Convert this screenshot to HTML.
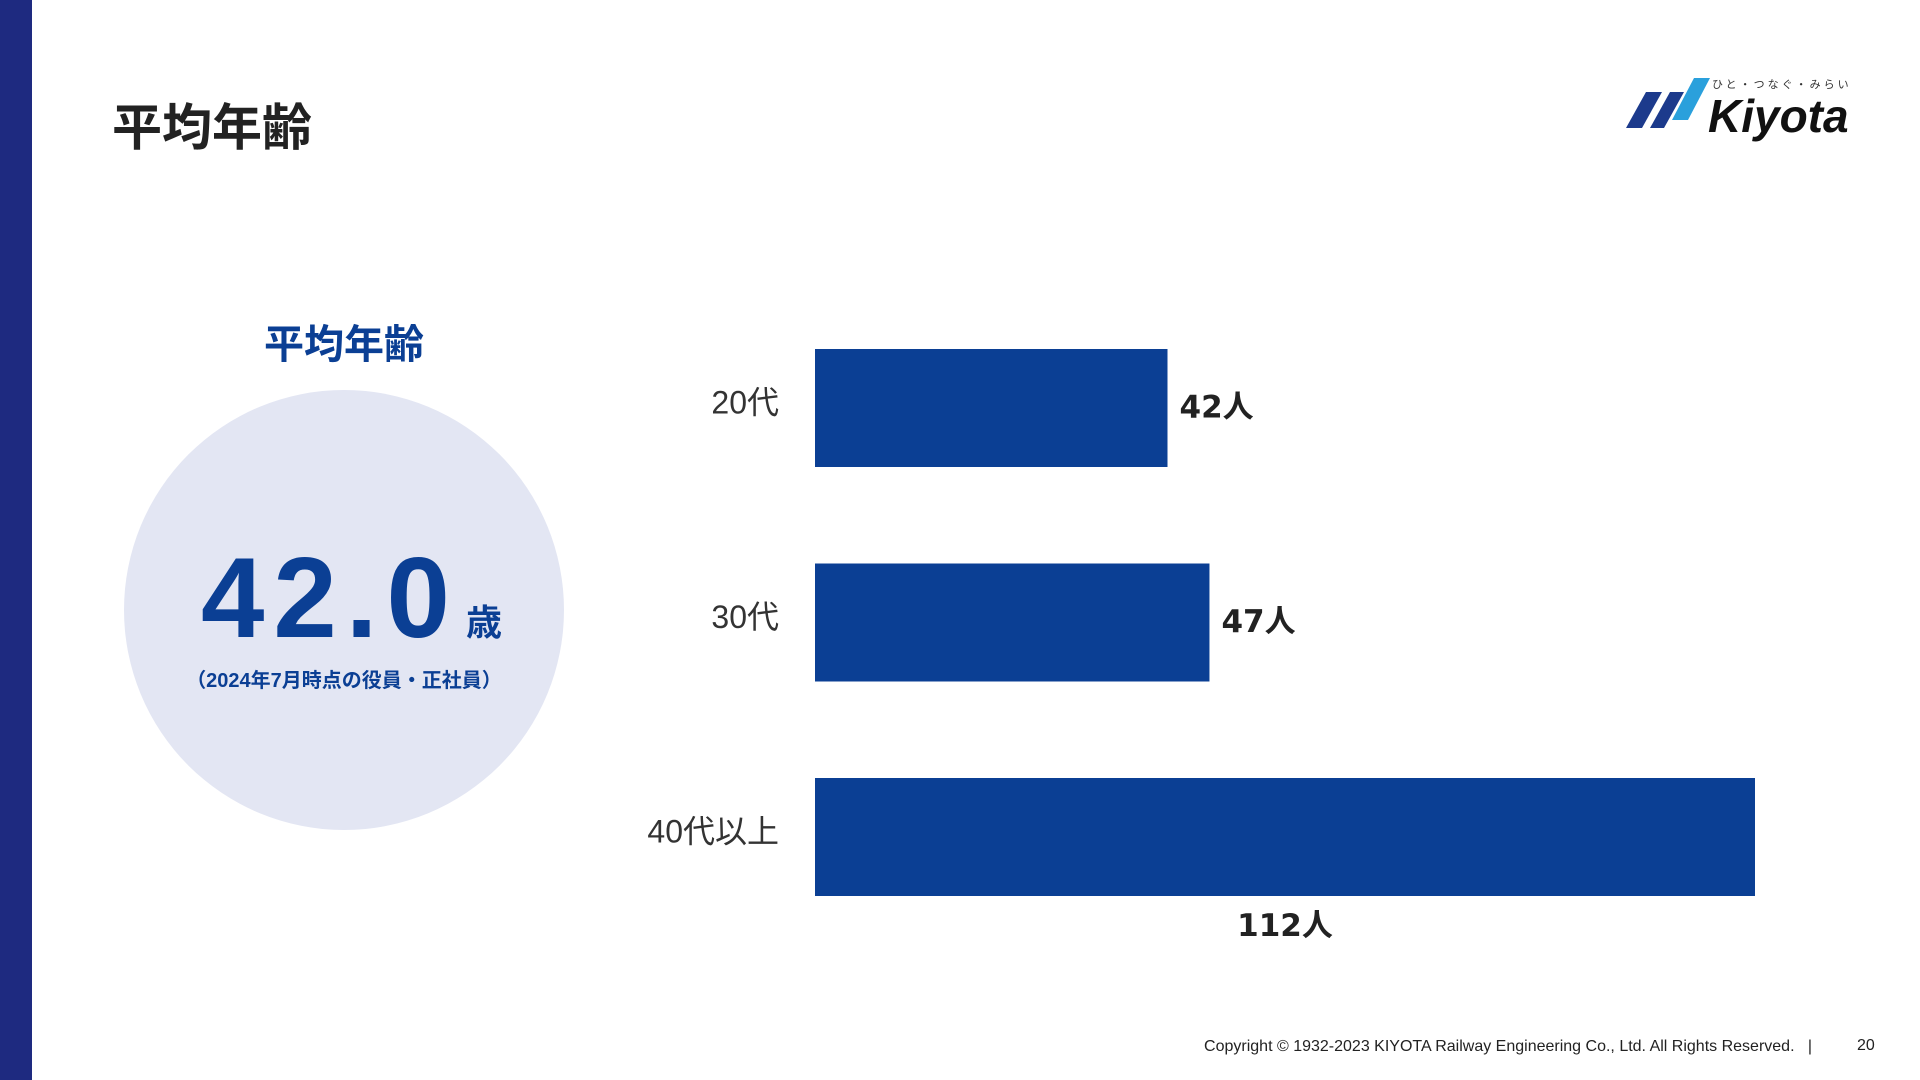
<!DOCTYPE html>
<html><head><meta charset="utf-8">
<style>
body{margin:0;width:1920px;height:1080px;background:#fff;position:relative;overflow:hidden;font-family:"Liberation Sans","Noto Sans CJK JP",sans-serif;}
.abs{position:absolute;}
</style></head><body>
<div class="abs" style="left:0;top:0;width:32px;height:1080px;background:#1e2a80"></div>
<div class="abs" style="left:112px;top:88px;font-size:50px;font-weight:bold;color:#222;">平均年齢</div>
<svg class="abs" style="left:1610px;top:70px" width="250" height="75" viewBox="0 0 250 75">
<polygon points="16,58 36,22 52,22 32,58" fill="#1c3a8c"/>
<polygon points="40,58 60,22 74,22 54,58" fill="#1c3a8c"/>
<polygon points="62,50 84,8 100,8 78,50" fill="#2aa0dc"/>
<text x="102" y="18" font-size="11" fill="#333" font-family="Noto Sans CJK JP,sans-serif" letter-spacing="3">ひと・つなぐ・みらい</text>
<text x="98" y="62" font-size="46" font-weight="bold" font-style="italic" fill="#111" font-family="Liberation Sans,sans-serif">Kiyota</text>
</svg>
<div class="abs" style="left:194px;width:300px;top:312px;text-align:center;font-size:40px;font-weight:bold;color:#0b3f94;">平均年齢</div>
<div class="abs" style="left:124px;top:390px;width:440px;height:440px;border-radius:50%;background:#e3e6f3"></div>
<div class="abs" style="left:201px;top:542px;font-size:114px;font-weight:bold;color:#0b3f94;line-height:1;letter-spacing:9px;font-family:'Liberation Sans',sans-serif;">42.0</div>
<div class="abs" style="left:466px;top:594px;font-size:36px;font-weight:bold;color:#0b3f94;">歳</div>
<div class="abs" style="left:144px;width:400px;top:664px;text-align:center;font-size:20px;font-weight:bold;color:#0b3f94;">（2024年7月時点の役員・正社員）</div>
<svg class="abs" id="chart" style="left:0;top:0" width="1920" height="1080"></svg>
<div class="abs" style="right:108px;top:1038px;font-size:16px;color:#222;">Copyright © 1932-2023 KIYOTA Railway Engineering Co., Ltd. All Rights Reserved.&nbsp;&nbsp; |</div>
<div class="abs" style="left:1857px;top:1037px;font-size:16px;color:#222;">20</div>
<script>
const categories=["20代","30代","40代以上"];
const values=[42,47,112];
const valueLabels=["42人","47人","112人"];
const svg=document.getElementById('chart');
const NS='http://www.w3.org/2000/svg';
const x0=815,x1=1755,maxV=112;
function xs(v){return x0+(x1-x0)*v/maxV;}
function yc(i){return 349+i*214.5;}
const bh=118;
categories.forEach((c,i)=>{
  const y=yc(i);
  const r=document.createElementNS(NS,'rect');
  r.setAttribute('x',x0);r.setAttribute('y',y);r.setAttribute('width',xs(values[i])-x0);r.setAttribute('height',bh);r.setAttribute('fill','#0b3f94');
  
  
  svg.appendChild(r);
  const t=document.createElementNS(NS,'text');
  t.setAttribute('x',779);t.setAttribute('y',y+56);t.setAttribute('text-anchor','end');t.setAttribute('dominant-baseline','middle');
  t.setAttribute('font-size','32');t.setAttribute('fill','#333');t.setAttribute('font-family','Liberation Sans,Noto Sans CJK JP,sans-serif');
  t.textContent=c;
  
  
  svg.appendChild(t);
  const v=document.createElementNS(NS,'text');
  const inside=(xs(values[i])>1600);
  if(inside){v.setAttribute('x',(x0+xs(values[i]))/2);v.setAttribute('y',y+bh+40);v.setAttribute('text-anchor','middle');}
  else{v.setAttribute('x',xs(values[i])+12);v.setAttribute('y',y+60);v.setAttribute('dominant-baseline','middle');}
  v.setAttribute('font-size','31');v.setAttribute('font-weight','bold');v.setAttribute('fill','#222');v.setAttribute('font-family','DejaVu Sans,Noto Sans CJK JP,sans-serif');
  v.textContent=valueLabels[i];
  
  
  svg.appendChild(v);
});
</script>
</body></html>
